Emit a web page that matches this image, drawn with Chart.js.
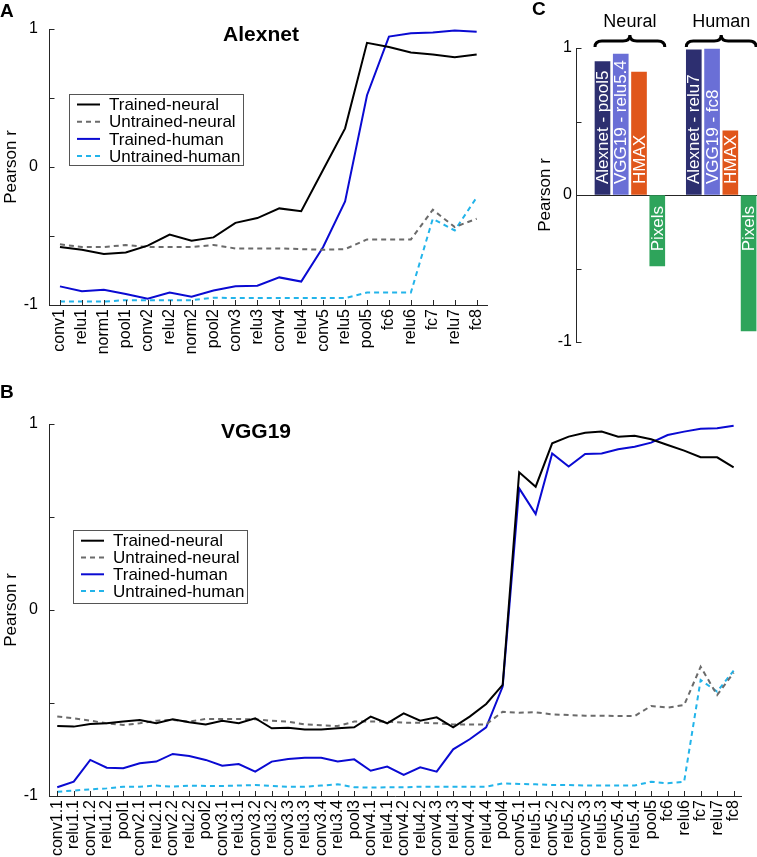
<!DOCTYPE html>
<html>
<head>
<meta charset="utf-8">
<script src="https://cdn.jsdelivr.net/npm/chart.js@4.4.1/dist/chart.umd.min.js"></script>
<style>
  body { margin: 0; background: #fff; }
  #wrap { position: relative; width: 757px; height: 857px; overflow: hidden; font-family: 'Liberation Sans', Arial, sans-serif; }
  canvas { position: absolute; }
  .lbl { position: absolute; line-height: 1; white-space: nowrap; color: #000; }
  .letter { font-size: 19px; font-weight: bold; }
  .ttl { font-size: 21px; font-weight: bold; transform: translateX(-50%); }
  .axisC { position: absolute; left: 576px; top: 48px; width: 1px; height: 294px; background: #262626; }
</style>
</head>
<body>
<div id="wrap">
  <canvas id="chartA" width="500" height="380" style="left:0;top:0"></canvas>
  <canvas id="chartB" width="757" height="477" style="left:0;top:380px"></canvas>
  <canvas id="chartC" width="317" height="380" style="left:440px;top:0"></canvas>
  <div class="axisC"></div>
  <div class="lbl letter" style="left:0;top:1px">A</div>
  <div class="lbl letter" style="left:0;top:382px">B</div>
  <div class="lbl letter" style="left:532px;top:-1px">C</div>
  <div class="lbl ttl" style="left:261px;top:23px">Alexnet</div>
  <div class="lbl ttl" style="left:256px;top:420px">VGG19</div>
</div>
<script>
// ---- data ----
const alexLayers = ["conv1","relu1","norm1","pool1","conv2","relu2","norm2","pool2","conv3","relu3",
  "conv4","relu4","conv5","relu5","pool5","fc6","relu6","fc7","relu7","fc8"];
const alexTrainedNeural = [-0.58,-0.60,-0.63,-0.62,-0.57,-0.49,-0.535,-0.51,-0.405,-0.37,
  -0.30,-0.32,-0.02,0.28,0.90,0.87,0.83,0.815,0.795,0.815];
const alexUntrainedNeural = [-0.56,-0.58,-0.58,-0.565,-0.58,-0.58,-0.58,-0.565,-0.59,-0.59,
  -0.59,-0.595,-0.60,-0.595,-0.525,-0.525,-0.525,-0.31,-0.435,-0.375];
const alexTrainedHuman = [-0.865,-0.90,-0.89,-0.92,-0.955,-0.91,-0.94,-0.895,-0.865,-0.86,
  -0.80,-0.83,-0.58,-0.25,0.52,0.945,0.97,0.975,0.99,0.98];
const alexUntrainedHuman = [-0.975,-0.975,-0.975,-0.965,-0.965,-0.965,-0.965,-0.947,-0.95,-0.95,
  -0.95,-0.95,-0.95,-0.95,-0.91,-0.91,-0.91,-0.375,-0.46,-0.22];

const vggLayers = ["conv1.1","relu1.1","conv1.2","relu1.2","pool1","conv2.1","relu2.1","conv2.2","relu2.2","pool2",
  "conv3.1","relu3.1","conv3.2","relu3.2","conv3.3","relu3.3","conv3.4","relu3.4","pool3",
  "conv4.1","relu4.1","conv4.2","relu4.2","conv4.3","relu4.3","conv4.4","relu4.4","pool4",
  "conv5.1","relu5.1","conv5.2","relu5.2","conv5.3","relu5.3","conv5.4","relu5.4","pool5",
  "fc6","relu6","fc7","relu7","fc8"];
const vggTrainedNeural = [-0.624,-0.627,-0.613,-0.609,-0.599,-0.591,-0.609,-0.588,-0.604,-0.615,
  -0.595,-0.609,-0.582,-0.636,-0.633,-0.642,-0.642,-0.636,-0.631,
  -0.573,-0.609,-0.556,-0.595,-0.577,-0.631,-0.573,-0.505,-0.403,
  0.74,0.663,0.896,0.932,0.953,0.959,0.932,0.937,0.918,
  0.887,0.857,0.821,0.821,0.767];
const vggUntrainedNeural = [-0.573,-0.582,-0.595,-0.609,-0.618,-0.609,-0.595,-0.591,-0.600,-0.586,
  -0.586,-0.586,-0.588,-0.595,-0.600,-0.615,-0.620,-0.624,-0.600,
  -0.600,-0.600,-0.606,-0.606,-0.609,-0.615,-0.615,-0.615,-0.547,
  -0.552,-0.550,-0.561,-0.565,-0.568,-0.568,-0.570,-0.570,-0.516,
  -0.525,-0.511,-0.305,-0.457,-0.337];
const vggTrainedHuman = [-0.953,-0.923,-0.806,-0.848,-0.851,-0.824,-0.815,-0.774,-0.785,-0.806,
  -0.837,-0.828,-0.869,-0.815,-0.801,-0.794,-0.794,-0.815,-0.803,
  -0.864,-0.842,-0.887,-0.846,-0.869,-0.749,-0.695,-0.631,-0.412,
  0.654,0.516,0.842,0.771,0.839,0.842,0.864,0.878,0.900,
  0.941,0.959,0.975,0.977,0.991];
const vggUntrainedHuman = [-0.977,-0.971,-0.964,-0.959,-0.950,-0.950,-0.944,-0.950,-0.944,-0.946,
  -0.946,-0.944,-0.941,-0.946,-0.950,-0.950,-0.944,-0.937,-0.953,
  -0.955,-0.953,-0.953,-0.950,-0.950,-0.950,-0.950,-0.950,-0.932,
  -0.935,-0.937,-0.941,-0.941,-0.944,-0.944,-0.944,-0.944,-0.923,
  -0.932,-0.923,-0.376,-0.439,-0.326];

const groupNames = ["Neural", "Human"];
const neuralModels = ["Alexnet - pool5", "VGG19 - relu5.4", "HMAX", "Pixels"];
const neuralBest = [0.907, 0.959, 0.837, -0.483];
const humanModels = ["Alexnet - relu7", "VGG19 - fc8", "HMAX", "Pixels"];
const humanBest = [0.988, 0.993, 0.437, -0.925];
const modelColors = ["#2d2f70", "#6a6fd6", "#e0561b", "#2ea45b"];

const seriesNames = ["Trained-neural", "Untrained-neural", "Trained-human", "Untrained-human"];
const yTicksShown = [-1, 0, 1];

// ---- common stuff ----
const FONT = "'Liberation Sans', Arial, sans-serif";
Chart.defaults.font.family = FONT;
Chart.defaults.color = "#000";
const AXIS = "#262626";

function lineSets(a, b, c, d) {
  return [
    { label: seriesNames[0], data: a, borderColor: "#000", borderWidth: 2 },
    { label: seriesNames[1], data: b, borderColor: "#6b6b6b", borderWidth: 2, borderDash: [5, 4] },
    { label: seriesNames[2], data: c, borderColor: "#0a0ad2", borderWidth: 2 },
    { label: seriesNames[3], data: d, borderColor: "#22b4ea", borderWidth: 2, borderDash: [5, 4] }
  ].map(s => Object.assign(s, { pointRadius: 0, tension: 0, fill: false }));
}

// y axis line and matlab-like ticks pointing into the plot
function drawAxisTicks(chart, len, withX) {
  const ctx = chart.ctx;
  const area = chart.chartArea;
  const y = chart.scales.y;
  const ax = Math.round(area.left) + 0.5;
  ctx.save();
  ctx.setLineDash([]);
  ctx.strokeStyle = AXIS;
  ctx.lineWidth = 1;
  ctx.beginPath(); ctx.moveTo(ax, area.top); ctx.lineTo(ax, area.bottom); ctx.stroke();
  y.ticks.forEach(t => {
    const py = Math.round(y.getPixelForValue(t.value)) + 0.5;
    ctx.beginPath(); ctx.moveTo(ax, py); ctx.lineTo(ax + len, py); ctx.stroke();
  });
  if (withX) {
    const x = chart.scales.x;
    x.ticks.forEach((t, i) => {
      const px = Math.round(x.getPixelForTick(i)) + 0.5;
      ctx.beginPath(); ctx.moveTo(px, area.bottom); ctx.lineTo(px, area.bottom - len); ctx.stroke();
    });
  }
  ctx.restore();
}

const inwardTicks = {
  id: "inwardTicks",
  afterDraw(chart) { drawAxisTicks(chart, 5, true); }
};

// boxed legend sitting inside the plot
const boxLegend = {
  id: "boxLegend",
  afterDraw(chart, args, o) {
    const ctx = chart.ctx;
    ctx.save();
    ctx.fillStyle = "#fff";
    ctx.fillRect(o.left, o.top, o.width, o.height);
    ctx.strokeStyle = "#555";
    ctx.lineWidth = 1;
    ctx.strokeRect(o.left + 0.5, o.top + 0.5, o.width, o.height);
    chart.data.datasets.forEach((ds, i) => {
      const y = o.top + o.firstRow + i * o.rowGap;
      ctx.strokeStyle = ds.borderColor;
      ctx.lineWidth = 2;
      ctx.setLineDash(ds.borderDash || []);
      ctx.beginPath(); ctx.moveTo(o.left + 8, y); ctx.lineTo(o.left + 31, y); ctx.stroke();
      ctx.setLineDash([]);
      ctx.fillStyle = "#000";
      ctx.font = "17px " + FONT;
      ctx.textBaseline = "middle";
      ctx.fillText(ds.label, o.left + 40, y + 1);
    });
    ctx.restore();
  }
};

function lineOptions(yWidth, xHeight, pad, legendBox) {
  return {
    responsive: false,
    devicePixelRatio: 1,
    animation: false,
    layout: { padding: pad },
    plugins: {
      legend: { display: false },
      tooltip: { enabled: false },
      boxLegend: legendBox
    },
    scales: {
      x: {
        type: "category",
        offset: true,
        grid: { display: false, drawTicks: false },
        border: { color: AXIS },
        ticks: { autoSkip: false, maxRotation: 90, minRotation: 90, padding: 4, font: { size: 16 } },
        afterFit: s => { s.height = xHeight; }
      },
      y: {
        min: -1, max: 1,
        grid: { display: false, drawTicks: false },
        border: { color: AXIS },
        ticks: {
          stepSize: 0.5, padding: 11, font: { size: 16 },
          callback: v => yTicksShown.includes(v) ? String(v) : ""
        },
        title: { display: true, text: "Pearson r", font: { size: 17 }, padding: { top: 1, bottom: 0 } },
        afterFit: s => { s.width = yWidth; }
      }
    }
  };
}

// ---- panel A ----
new Chart(document.getElementById("chartA"), {
  type: "line",
  data: { labels: alexLayers, datasets: lineSets(alexTrainedNeural, alexUntrainedNeural, alexTrainedHuman, alexUntrainedHuman) },
  options: lineOptions(49, 75, { top: 29, right: 5, left: 0, bottom: 0 },
    { left: 69, top: 94, width: 174, height: 71, firstRow: 10.5, rowGap: 17.2 }),
  plugins: [inwardTicks, boxLegend]
});

// ---- panel B ----
new Chart(document.getElementById("chartB"), {
  type: "line",
  data: { labels: vggLayers, datasets: lineSets(vggTrainedNeural, vggUntrainedNeural, vggTrainedHuman, vggUntrainedHuman) },
  options: lineOptions(49, 61, { top: 44, right: 14, left: 0, bottom: 0 },
    { left: 73, top: 150, width: 174, height: 73, firstRow: 10.7, rowGap: 16.8 }),
  plugins: [inwardTicks, boxLegend]
});

// ---- panel C ----
const barNames = neuralModels.concat(humanModels);
const barPoints = neuralBest.map((v, i) => ({ x: i, y: v }))
  .concat(humanBest.map((v, i) => ({ x: i + neuralBest.length + 1, y: v })));

const barText = {
  id: "barText",
  afterDraw(chart) {
    const ctx = chart.ctx;
    const meta = chart.getDatasetMeta(0);
    const zero = chart.scales.y.getPixelForValue(0);
    ctx.save();
    ctx.font = "17px " + FONT;
    ctx.fillStyle = "#fff";
    ctx.textBaseline = "middle";
    meta.data.forEach((bar, i) => {
      const v = barPoints[i].y;
      ctx.save();
      ctx.translate(bar.x, v >= 0 ? zero - 11 : zero + 11);
      ctx.rotate(-Math.PI / 2);
      ctx.textAlign = v >= 0 ? "left" : "right";
      ctx.fillText(barNames[i], 0, 1);
      ctx.restore();
    });
    // braces + group names
    ctx.strokeStyle = "#000";
    ctx.lineWidth = 3;
    ctx.fillStyle = "#000";
    ctx.font = "18px " + FONT;
    ctx.textAlign = "center";
    ctx.textBaseline = "alphabetic";
    const n = neuralBest.length;
    groupNames.forEach((g, gi) => {
      const first = meta.data[gi * n], last = meta.data[gi * n + n - 1];
      const x0 = first.x - first.width / 2, x1 = last.x + last.width / 2;
      const xm = (x0 + x1) / 2;
      const tipY = 47, barY = 41, peakY = 35;
      ctx.beginPath();
      ctx.moveTo(x0, tipY);
      ctx.quadraticCurveTo(x0, barY, x0 + 7, barY);
      ctx.lineTo(xm - 7, barY);
      ctx.quadraticCurveTo(xm, barY, xm, peakY);
      ctx.quadraticCurveTo(xm, barY, xm + 7, barY);
      ctx.lineTo(x1 - 7, barY);
      ctx.quadraticCurveTo(x1, barY, x1, tipY);
      ctx.stroke();
      ctx.fillText(g, xm, 27);
    });
    ctx.restore();
    drawAxisTicks(chart, 5, false);
  }
};

new Chart(document.getElementById("chartC"), {
  type: "bar",
  data: {
    datasets: [{
      data: barPoints,
      backgroundColor: modelColors.concat(modelColors),
      barThickness: 15,
      clip: false
    }]
  },
  options: {
    responsive: false,
    devicePixelRatio: 1,
    animation: false,
    layout: { padding: { top: 48, bottom: 38, left: 0, right: 0 } },
    plugins: {
      legend: { display: false },
      tooltip: { enabled: false }
    },
    scales: {
      x: { type: "linear", display: false, offset: false, bounds: "data", min: -1.45, max: 8.46 },
      y: {
        min: -1, max: 1,
        grid: {
          drawTicks: false,
          color: c => c.tick && c.tick.value === 0 ? AXIS : "rgba(0,0,0,0)"
        },
        border: { color: AXIS },
        ticks: {
          stepSize: 0.5, padding: 4, font: { size: 16 },
          callback: v => yTicksShown.includes(v) ? String(v) : ""
        },
        title: { display: true, text: "Pearson r", font: { size: 17 }, padding: { top: 95, bottom: 0 } },
        afterFit: s => { s.width = 136; }
      }
    }
  },
  plugins: [barText]
});
</script>
</body>
</html>
